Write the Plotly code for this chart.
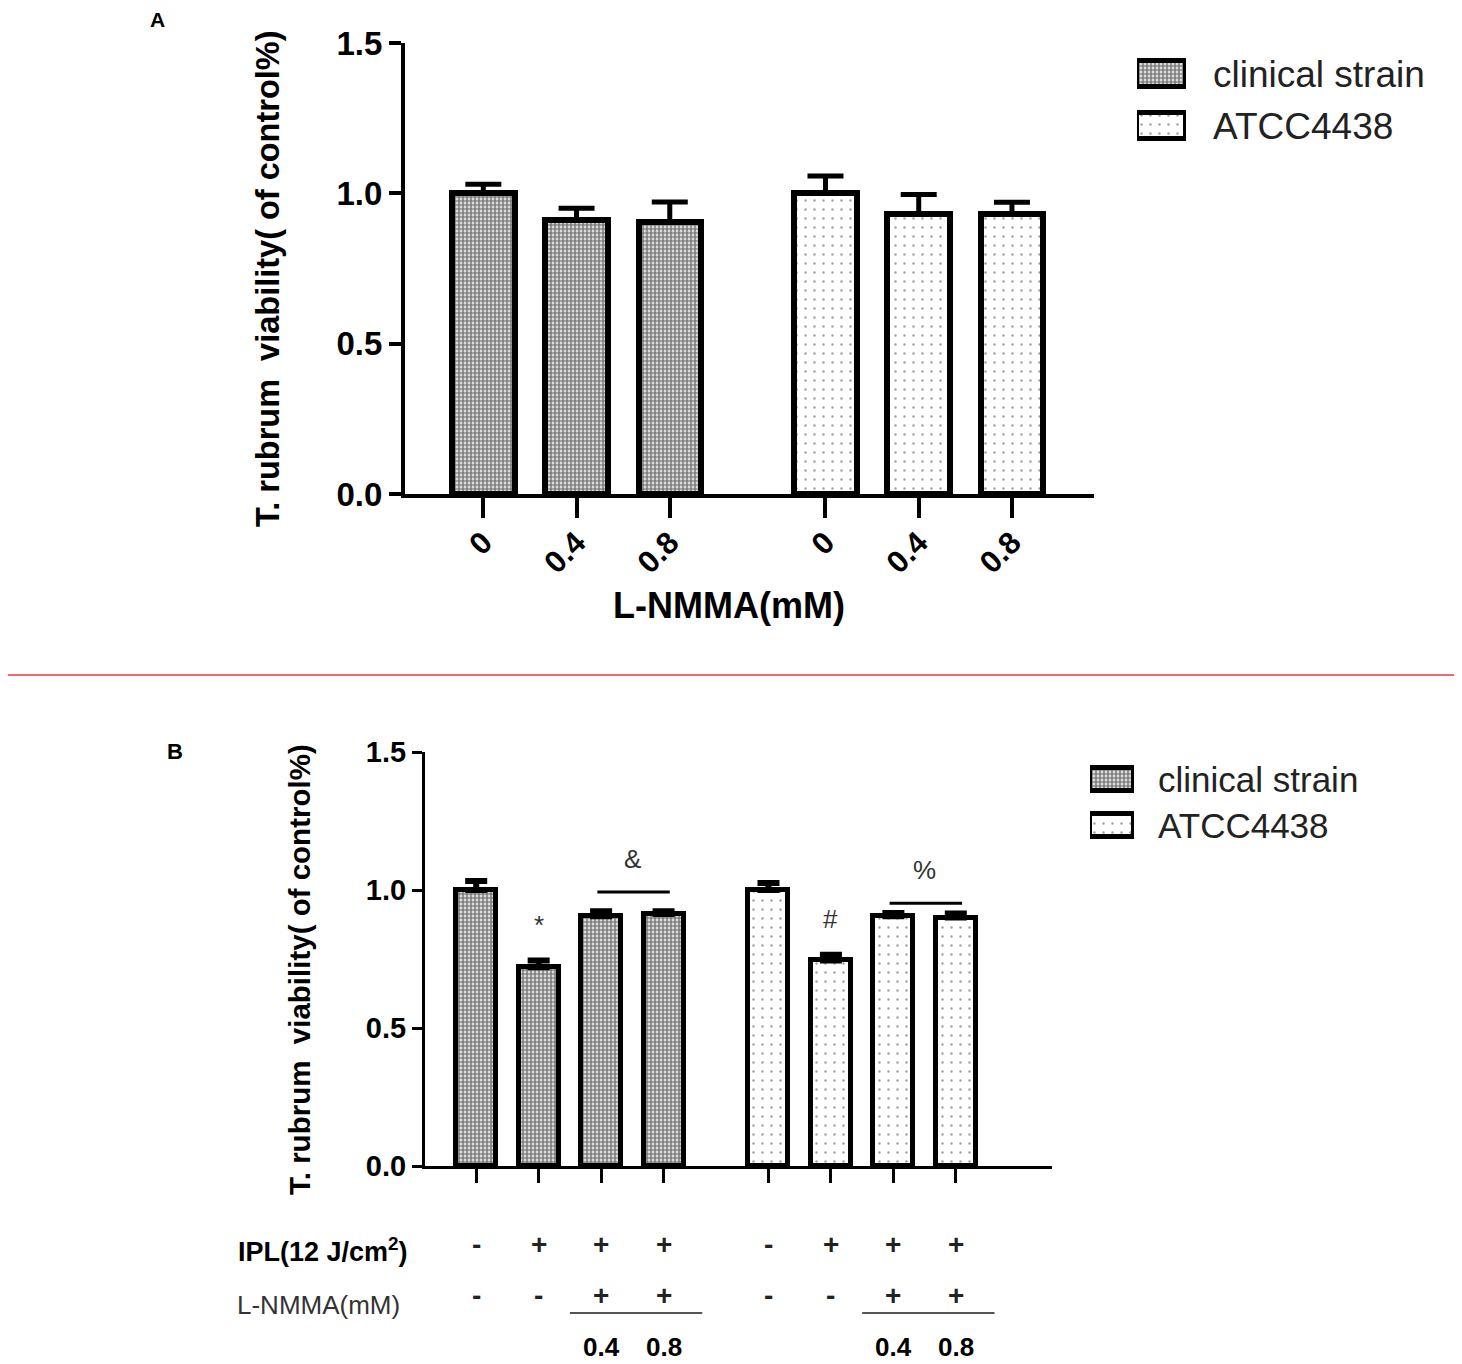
import plotly.graph_objects as go

# the page puts the figure 8px in from the top-left corner
OFF = 8
W, H = 1462 - OFF, 1364 - OFF
FONT = "Liberation Sans, Arial, sans-serif"

# ---- panel A data ----
doses_a = ["0", "0.4", "0.8"]
clinical_a = [1.00, 0.91, 0.905]
clinical_a_err = [0.03, 0.04, 0.066]
atcc_a = [1.00, 0.932, 0.93]
atcc_a_err = [0.058, 0.064, 0.04]

# ---- panel B data ----
ipl_b = ["-", "+", "+", "+"]
nmma_b = ["-", "-", "+", "+"]
dose_b = ["", "", "0.4", "0.8"]
clinical_b = [1.00, 0.72, 0.905, 0.913]
clinical_b_err = [0.033, 0.025, 0.018, 0.01]
atcc_b = [1.00, 0.745, 0.905, 0.90]
atcc_b_err = [0.025, 0.02, 0.012, 0.015]
sig_single = ["*", "#"]      # over the IPL-only bar of each strain
sig_group = ["&", "%"]       # over the IPL + L-NMMA pair of each strain

series = ["clinical strain", "ATCC4438"]

pat_clin = dict(shape=".", size=4, solidity=0.7, fgcolor="black", bgcolor="white")
pat_atcc = dict(shape=".", size=9, solidity=0.06, fgcolor="#444", bgcolor="white")
patterns = [pat_clin, pat_atcc]


def px(x):
    return (x - OFF) / W


def py(y):
    return 1 - (y - OFF) / H


def positions(n, gap):
    return [[g * (n + gap) + i for i in range(n)] for g in range(2)]


pos_a = positions(len(doses_a), 0.67)
pos_b = positions(len(ipl_b), 0.68)

fig = go.Figure()

for k, (vals, errs) in enumerate([(clinical_a, clinical_a_err), (atcc_a, atcc_a_err)]):
    fig.add_trace(go.Bar(
        x=pos_a[k], y=vals, width=0.67, name=series[k], showlegend=False,
        marker=dict(color="white", pattern=patterns[k], line=dict(color="black", width=6)),
        error_y=dict(type="data", symmetric=False, array=errs, arrayminus=[0] * len(errs),
                     color="black", thickness=5, width=18),
        cliponaxis=False, xaxis="x", yaxis="y"))

for k, (vals, errs) in enumerate([(clinical_b, clinical_b_err), (atcc_b, atcc_b_err)]):
    fig.add_trace(go.Bar(
        x=pos_b[k], y=vals, width=0.64, name=series[k], showlegend=False,
        marker=dict(color="white", pattern=patterns[k], line=dict(color="black", width=5)),
        error_y=dict(type="data", symmetric=False, array=errs, arrayminus=[0] * len(errs),
                     color="black", thickness=6, width=11),
        cliponaxis=False, xaxis="x2", yaxis="y2"))

# legend swatches as small horizontal bars, names as tick labels
for ax in ["3", "4"]:
    for k in range(2):
        fig.add_trace(go.Bar(
            x=[1], y=[series[k]], orientation="h", width=0.5, showlegend=False,
            marker=dict(color="white", pattern=patterns[k], line=dict(color="black", width=5)),
            cliponaxis=False, xaxis="x" + ax, yaxis="y" + ax, hoverinfo="skip"))

ytick = dict(tickvals=[0, 0.5, 1.0, 1.5], ticktext=["0.0", "0.5", "1.0", "1.5"],
             range=[0, 1.5], showgrid=False, zeroline=False, showline=True,
             linecolor="black", ticks="outside", tickcolor="black", automargin=False)

fig.update_layout(
    width=W, height=H, margin=dict(l=0, r=0, t=0, b=0, pad=0, autoexpand=False),
    paper_bgcolor="white", plot_bgcolor="white", bargap=0,
    font=dict(family=FONT, color="black"),
    xaxis=dict(domain=[px(405), px(1094)], range=[-0.84, pos_a[1][-1] + 0.88],
               tickvals=pos_a[0] + pos_a[1], ticktext=doses_a + doses_a, tickangle=-45,
               tickfont=dict(size=31, weight="bold"), showgrid=False, zeroline=False,
               showline=True, linecolor="black", linewidth=4, ticks="outside",
               ticklen=20, tickwidth=4, tickcolor="black", ticklabelstandoff=-6,
               anchor="y", automargin=False),
    yaxis=dict(domain=[py(494), py(43)], linewidth=4, ticklen=12, tickwidth=4,
               tickfont=dict(size=33, weight="bold"), anchor="x", **ytick),
    xaxis2=dict(domain=[px(425), px(1052)], range=[-0.82, pos_b[1][-1] + 1.54],
                tickvals=pos_b[0] + pos_b[1], showticklabels=False, showgrid=False,
                zeroline=False, showline=True, linecolor="black", linewidth=3,
                ticks="outside", ticklen=14, tickwidth=3, tickcolor="black", anchor="y2",
                automargin=False),
    yaxis2=dict(domain=[py(1166), py(752)], linewidth=3, ticklen=10, tickwidth=3,
                tickfont=dict(size=29, weight="bold"), anchor="x2", **ytick),
    xaxis3=dict(domain=[px(1137), px(1186)], range=[0, 1], visible=False, anchor="y3",
                automargin=False),
    yaxis3=dict(domain=[py(152), py(48)], type="category", categoryorder="array",
                categoryarray=series[::-1], range=[-0.5, 1.5], side="right", ticks="",
                showline=False, showgrid=False, zeroline=False, ticklabelstandoff=26,
                tickfont=dict(size=37, color="#222"), anchor="x3", automargin=False),
    xaxis4=dict(domain=[px(1090), px(1134)], range=[0, 1], visible=False, anchor="y4",
                automargin=False),
    yaxis4=dict(domain=[py(849), py(756)], type="category", categoryorder="array",
                categoryarray=series[::-1], range=[-0.5, 1.5], side="right", ticks="",
                showline=False, showgrid=False, zeroline=False, ticklabelstandoff=23,
                tickfont=dict(size=35, color="#222"), anchor="x4", automargin=False),
)


def note(x, y, text, size, xref="paper", yref="paper", xanchor="center", **kw):
    font = dict(size=size)
    font.update(kw.pop("font", {}))
    return dict(x=x, y=y, text=text, showarrow=False, xref=xref, yref=yref,
                xanchor=xanchor, yanchor="middle", font=font, **kw)


ann = []
ytitle = "T. rubrum  viability( of control%)"
ann.append(note(px(268), py(279), ytitle, 32.5, textangle=-90, font=dict(weight="bold")))
ann.append(note(px(300), py(970), ytitle, 29.5, textangle=-90, font=dict(weight="bold")))
ann.append(note(px(729), py(605), "L-NMMA(mM)", 36, font=dict(weight="bold")))
ann.append(note(px(157), py(19), "A", 21, font=dict(weight="bold")))
ann.append(note(px(175), py(751), "B", 22, font=dict(weight="bold")))

# condition table under panel B
ann.append(note(px(410), py(1250), "IPL(12 J/cm<sup>2</sup>)", 27, xanchor="right",
                font=dict(weight="bold")))
ann.append(note(px(402), py(1305), "L-NMMA(mM)", 26, xanchor="right",
                font=dict(color="#333")))
shapes = []
for g in range(2):
    for i in range(len(ipl_b)):
        xv = pos_b[g][i]
        ann.append(note(xv, py(1244), ipl_b[i], 28, xref="x2",
                        font=dict(weight="bold", color="#222")))
        ann.append(note(xv, py(1295), nmma_b[i], 28, xref="x2",
                        font=dict(weight="bold", color="#222")))
        if dose_b[i]:
            ann.append(note(xv, py(1347), dose_b[i], 26, xref="x2",
                            font=dict(weight="bold")))
    shapes.append(dict(type="line", xref="x2", yref="paper", x0=pos_b[g][2] - 0.5,
                       x1=pos_b[g][3] + 0.62, y0=py(1313), y1=py(1313),
                       line=dict(color="#555", width=2)))
    # significance marks
    vals = [clinical_b, atcc_b][g]
    errs = [clinical_b_err, atcc_b_err][g]
    ann.append(note(pos_b[g][1], vals[1] + errs[1] + 0.13, sig_single[g], 26,
                    xref="x2", yref="y2", font=dict(color="#333")))
    top = max(vals[2] + errs[2], vals[3] + errs[3])
    ly = top + 0.07 - g * 0.035
    shapes.append(dict(type="line", xref="x2", yref="y2", x0=pos_b[g][2] - 0.06,
                       x1=pos_b[g][3] + 0.1, y0=ly, y1=ly,
                       line=dict(color="black", width=3)))
    ann.append(note((pos_b[g][2] + pos_b[g][3]) / 2, ly + 0.12, sig_group[g], 26,
                    xref="x2", yref="y2", font=dict(color="#333")))

# red separator
shapes.append(dict(type="line", xref="paper", yref="paper", x0=-0.01, x1=1,
                   y0=py(675), y1=py(675), line=dict(color="#e63a3c", width=1.5)))

fig.update_layout(annotations=ann, shapes=shapes)
fig.write_html("out.html")
